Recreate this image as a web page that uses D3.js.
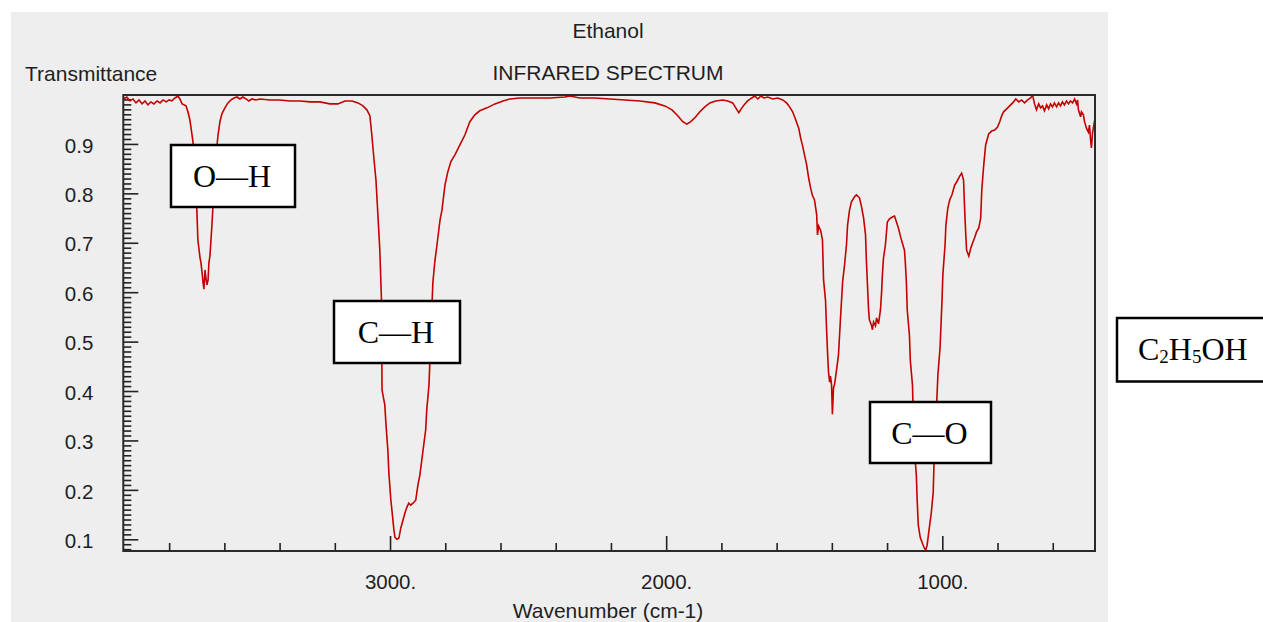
<!DOCTYPE html>
<html>
<head>
<meta charset="utf-8">
<script src="https://cdn.jsdelivr.net/npm/d3@7"></script>
<style>
  body { margin: 0; background: #ffffff; }
  svg { display: block; }
  .sans { font-family: "Liberation Sans", Arial, sans-serif; fill: #1e1e1e; }
  .serif { font-family: "Liberation Serif", "Times New Roman", serif; fill: #000; }
</style>
</head>
<body>
<div id="chart"></div>
<script>
// spectrum: wavenumber (cm-1) and transmittance
var wavenumber = [3965, 3953, 3942, 3931, 3920, 3909, 3898, 3887, 3877, 3866, 3855, 3844, 3833, 3822, 3811, 3800, 3790, 3779, 3768, 3761,
  3753, 3739, 3732, 3725, 3717, 3710, 3703, 3699, 3696, 3688, 3685, 3681, 3677, 3674, 3670, 3667, 3663, 3659, 3656, 3652,
  3648, 3645, 3641, 3634, 3630, 3623, 3616, 3609, 3598, 3587, 3576, 3565, 3554, 3544, 3533, 3522, 3511, 3500, 3486, 3471,
  3435, 3399, 3363, 3326, 3290, 3254, 3218, 3189, 3163, 3138, 3116, 3098, 3084, 3073, 3066, 3058, 3051, 3047, 3040, 3037,
  3031, 3029, 3019, 3015, 3008, 3004, 2997, 2991, 2986, 2982, 2975, 2968, 2961, 2953, 2946, 2939, 2932, 2925, 2917, 2907,
  2899, 2892, 2885, 2878, 2871, 2867, 2859, 2856, 2850, 2845, 2838, 2830, 2819, 2812, 2801, 2791, 2780, 2765, 2747, 2729,
  2711, 2693, 2675, 2649, 2620, 2591, 2566, 2530, 2475, 2421, 2367, 2349, 2312, 2258, 2204, 2149, 2095, 2041, 2005, 1979,
  1958, 1940, 1925, 1911, 1896, 1878, 1860, 1842, 1821, 1795, 1777, 1759, 1748, 1737, 1726, 1715, 1705, 1690, 1679, 1668,
  1657, 1646, 1632, 1614, 1596, 1578, 1564, 1553, 1542, 1531, 1520, 1513, 1506, 1499, 1491, 1484, 1477, 1470, 1463, 1455,
  1452, 1448, 1441, 1434, 1430, 1423, 1419, 1416, 1412, 1408, 1405, 1401, 1398, 1394, 1390, 1383, 1376, 1369, 1361, 1354,
  1347, 1343, 1336, 1329, 1318, 1311, 1300, 1293, 1285, 1278, 1275, 1271, 1267, 1264, 1256, 1253, 1249, 1242, 1238, 1231,
  1224, 1220, 1217, 1213, 1206, 1199, 1192, 1181, 1173, 1166, 1159, 1152, 1145, 1137, 1134, 1130, 1127, 1119, 1116, 1108,
  1105, 1101, 1094, 1091, 1087, 1080, 1072, 1065, 1060, 1055, 1048, 1040, 1033, 1030, 1023, 1016, 1008, 1001, 998, 990,
  987, 980, 973, 965, 955, 948, 937, 930, 923, 919, 915, 912, 904, 897, 890, 883, 876, 868, 861, 857,
  850, 843, 832, 821, 810, 800, 792, 785, 778, 767, 756, 745, 734, 723, 713, 702, 691, 680, 673, 666,
  659, 651, 644, 637, 630, 622, 615, 608, 601, 594, 586, 579, 572, 565, 558, 550, 543, 536, 528, 521,
  514, 510, 507, 499, 496, 489, 485, 478, 471, 467, 463, 460, 456, 448];

var transmittance = [0.991, 0.995, 0.987, 0.991, 0.983, 0.989, 0.981, 0.987, 0.979, 0.985, 0.981, 0.987, 0.983, 0.989, 0.985, 0.989, 0.987, 0.993, 0.997, 0.991,
  0.981, 0.977, 0.965, 0.949, 0.918, 0.888, 0.817, 0.756, 0.706, 0.669, 0.661, 0.641, 0.619, 0.606, 0.645, 0.629, 0.615, 0.625, 0.659, 0.675,
  0.710, 0.736, 0.777, 0.837, 0.878, 0.918, 0.945, 0.961, 0.973, 0.983, 0.989, 0.993, 0.995, 0.991, 0.995, 0.991, 0.987, 0.991, 0.989, 0.991,
  0.989, 0.989, 0.987, 0.987, 0.985, 0.985, 0.981, 0.981, 0.987, 0.987, 0.983, 0.977, 0.969, 0.957, 0.918, 0.868, 0.827, 0.787, 0.716, 0.685,
  0.584, 0.402, 0.372, 0.335, 0.281, 0.232, 0.179, 0.147, 0.119, 0.104, 0.100, 0.102, 0.123, 0.139, 0.153, 0.165, 0.173, 0.169, 0.173, 0.179,
  0.210, 0.230, 0.260, 0.291, 0.321, 0.362, 0.412, 0.457, 0.544, 0.619, 0.661, 0.696, 0.746, 0.766, 0.817, 0.843, 0.864, 0.878, 0.898, 0.918,
  0.945, 0.959, 0.967, 0.973, 0.981, 0.987, 0.991, 0.993, 0.993, 0.993, 0.995, 0.997, 0.993, 0.993, 0.991, 0.989, 0.987, 0.983, 0.977, 0.969,
  0.957, 0.945, 0.940, 0.945, 0.953, 0.965, 0.975, 0.983, 0.987, 0.989, 0.987, 0.983, 0.973, 0.963, 0.973, 0.981, 0.987, 0.993, 0.997, 0.991,
  0.997, 0.993, 0.995, 0.991, 0.993, 0.989, 0.983, 0.975, 0.965, 0.949, 0.932, 0.912, 0.896, 0.878, 0.857, 0.831, 0.811, 0.795, 0.787, 0.757,
  0.716, 0.734, 0.726, 0.706, 0.625, 0.584, 0.524, 0.483, 0.438, 0.418, 0.430, 0.412, 0.353, 0.406, 0.414, 0.443, 0.473, 0.544, 0.621, 0.655,
  0.696, 0.736, 0.766, 0.783, 0.793, 0.797, 0.791, 0.774, 0.750, 0.716, 0.665, 0.615, 0.564, 0.544, 0.532, 0.524, 0.540, 0.532, 0.548, 0.536,
  0.564, 0.598, 0.635, 0.669, 0.696, 0.742, 0.748, 0.752, 0.754, 0.742, 0.730, 0.714, 0.700, 0.685, 0.661, 0.619, 0.564, 0.513, 0.463, 0.412,
  0.341, 0.281, 0.230, 0.179, 0.129, 0.104, 0.092, 0.082, 0.078, 0.088, 0.119, 0.153, 0.194, 0.254, 0.341, 0.432, 0.489, 0.584, 0.635, 0.696,
  0.736, 0.770, 0.787, 0.797, 0.817, 0.823, 0.835, 0.841, 0.827, 0.766, 0.716, 0.685, 0.673, 0.689, 0.700, 0.710, 0.722, 0.730, 0.750, 0.807,
  0.857, 0.898, 0.920, 0.926, 0.928, 0.934, 0.945, 0.957, 0.965, 0.971, 0.977, 0.983, 0.991, 0.985, 0.989, 0.983, 0.989, 0.993, 0.999, 0.981,
  0.969, 0.981, 0.973, 0.977, 0.967, 0.979, 0.971, 0.981, 0.975, 0.983, 0.975, 0.983, 0.977, 0.985, 0.979, 0.987, 0.981, 0.987, 0.983, 0.991,
  0.981, 0.989, 0.969, 0.955, 0.965, 0.959, 0.945, 0.932, 0.924, 0.938, 0.908, 0.892, 0.922, 0.949];

var yMajorTicks = [0.1, 0.2, 0.3, 0.4, 0.5, 0.6, 0.7, 0.8, 0.9];
var xMajorTicks = [3000, 2000, 1000];
var xMinorTicks = [3800, 3600, 3400, 3200, 2800, 2600, 2400, 2200, 1800, 1600, 1400, 1200, 800, 600];
var yMinorTicks = d3.range(8, 100).map(d => d / 100).filter(d => Math.round(d * 100) % 10 != 0);

var svgWidth = 1263;
var svgHeight = 622;

var plot = { left: 123.3, top: 95, right: 1095, bottom: 551 };

var svg = d3.select("#chart")
            .append("svg")
            .attr("width", svgWidth)
            .attr("height", svgHeight);

// grey window
svg.append("rect")
   .attr("x", 11).attr("y", 12)
   .attr("width", 1097).attr("height", 610)
   .attr("fill", "#eeeeee");

var xScale = d3.scaleLinear()
               .domain([3966, 447])
               .range([plot.left, plot.right]);

var yScale = d3.scaleLinear()
               .domain([0.0763, 0.999])
               .range([plot.bottom, plot.top]);

// minor ticks
svg.append("g")
   .attr("transform", `translate(${plot.left}, 0)`)
   .call(d3.axisLeft(yScale).tickValues(yMinorTicks).tickSize(-8).tickFormat(""))
   .call(g => g.select(".domain").remove());

svg.append("g")
   .attr("transform", `translate(0, ${plot.bottom})`)
   .call(d3.axisBottom(xScale).tickValues(xMinorTicks).tickSize(-8).tickFormat(""))
   .call(g => g.select(".domain").remove());

// major ticks + labels
var leftAxis = svg.append("g")
   .attr("transform", `translate(${plot.left}, 0)`)
   .call(d3.axisLeft(yScale).tickValues(yMajorTicks).tickSize(-15).tickPadding(30).tickFormat(d3.format(".1f")));
leftAxis.select(".domain").remove();
leftAxis.selectAll("text").attr("dy", "0.4em");

var bottomAxis = svg.append("g")
   .attr("transform", `translate(0, ${plot.bottom})`)
   .call(d3.axisBottom(xScale).tickValues(xMajorTicks).tickSize(-15).tickPadding(23).tickFormat(d => d + "."));
bottomAxis.select(".domain").remove();

svg.selectAll(".tick line").attr("stroke", "#222").attr("stroke-width", 1.6);
svg.selectAll(".tick text")
   .attr("class", "sans")
   .style("font-size", "20.5px")
   .attr("fill", "#1e1e1e");

// spectrum
var points = wavenumber.map((w, i) => [w, transmittance[i]]);
var line = d3.line()
             .x(d => xScale(d[0]))
             .y(d => yScale(d[1]));

svg.append("defs").append("clipPath").attr("id", "plotclip")
   .append("rect")
   .attr("x", plot.left).attr("y", plot.top - 1)
   .attr("width", plot.right - plot.left).attr("height", plot.bottom - plot.top + 1);

svg.append("path")
   .datum(points)
   .attr("d", line)
   .attr("clip-path", "url(#plotclip)")
   .attr("fill", "none")
   .attr("stroke", "#c40000")
   .attr("stroke-width", 1.6);

// frame
svg.append("rect")
   .attr("x", plot.left).attr("y", plot.top)
   .attr("width", plot.right - plot.left).attr("height", plot.bottom - plot.top)
   .attr("fill", "none")
   .attr("stroke", "#2a2a2a")
   .attr("stroke-width", 2);

// titles
svg.append("text").attr("class", "sans")
   .attr("x", 608).attr("y", 38)
   .attr("text-anchor", "middle")
   .style("font-size", "21px")
   .text("Ethanol");

svg.append("text").attr("class", "sans")
   .attr("x", 608).attr("y", 80)
   .attr("text-anchor", "middle")
   .style("font-size", "21px")
   .text("INFRARED SPECTRUM");

svg.append("text").attr("class", "sans")
   .attr("x", 25).attr("y", 80.5)
   .style("font-size", "21px")
   .text("Transmittance");

svg.append("text").attr("class", "sans")
   .attr("x", 608).attr("y", 618)
   .attr("text-anchor", "middle")
   .style("font-size", "21px")
   .text("Wavenumber (cm-1)");

// bond labels
var boxes = [
  { text: "O\u2014H", x: 171, y: 145, w: 124, h: 62 },
  { text: "C\u2014H", x: 334, y: 301, w: 126, h: 62 },
  { text: "C\u2014O", x: 870, y: 402, w: 121, h: 61 }
];

boxes.forEach(function(b) {
  svg.append("rect")
     .attr("x", b.x).attr("y", b.y)
     .attr("width", b.w).attr("height", b.h)
     .attr("fill", "#ffffff")
     .attr("stroke", "#000")
     .attr("stroke-width", 2.5);
  svg.append("text").attr("class", "serif")
     .attr("x", b.x + b.w / 2 - 1).attr("y", b.y + 42)
     .attr("text-anchor", "middle")
     .style("font-size", "32px")
     .text(b.text);
});

// formula box
svg.append("rect")
   .attr("x", 1117).attr("y", 318)
   .attr("width", 150).attr("height", 63.5)
   .attr("fill", "#ffffff")
   .attr("stroke", "#000")
   .attr("stroke-width", 2.5);

var formula = svg.append("text").attr("class", "serif")
   .attr("x", 1138).attr("y", 360)
   .style("font-size", "32px");
formula.append("tspan").text("C");
formula.append("tspan").attr("dy", 3).style("font-size", "19px").text("2");
formula.append("tspan").attr("dy", -3).text("H");
formula.append("tspan").attr("dy", 3).style("font-size", "19px").text("5");
formula.append("tspan").attr("dy", -3).text("OH");
</script>
</body>
</html>
